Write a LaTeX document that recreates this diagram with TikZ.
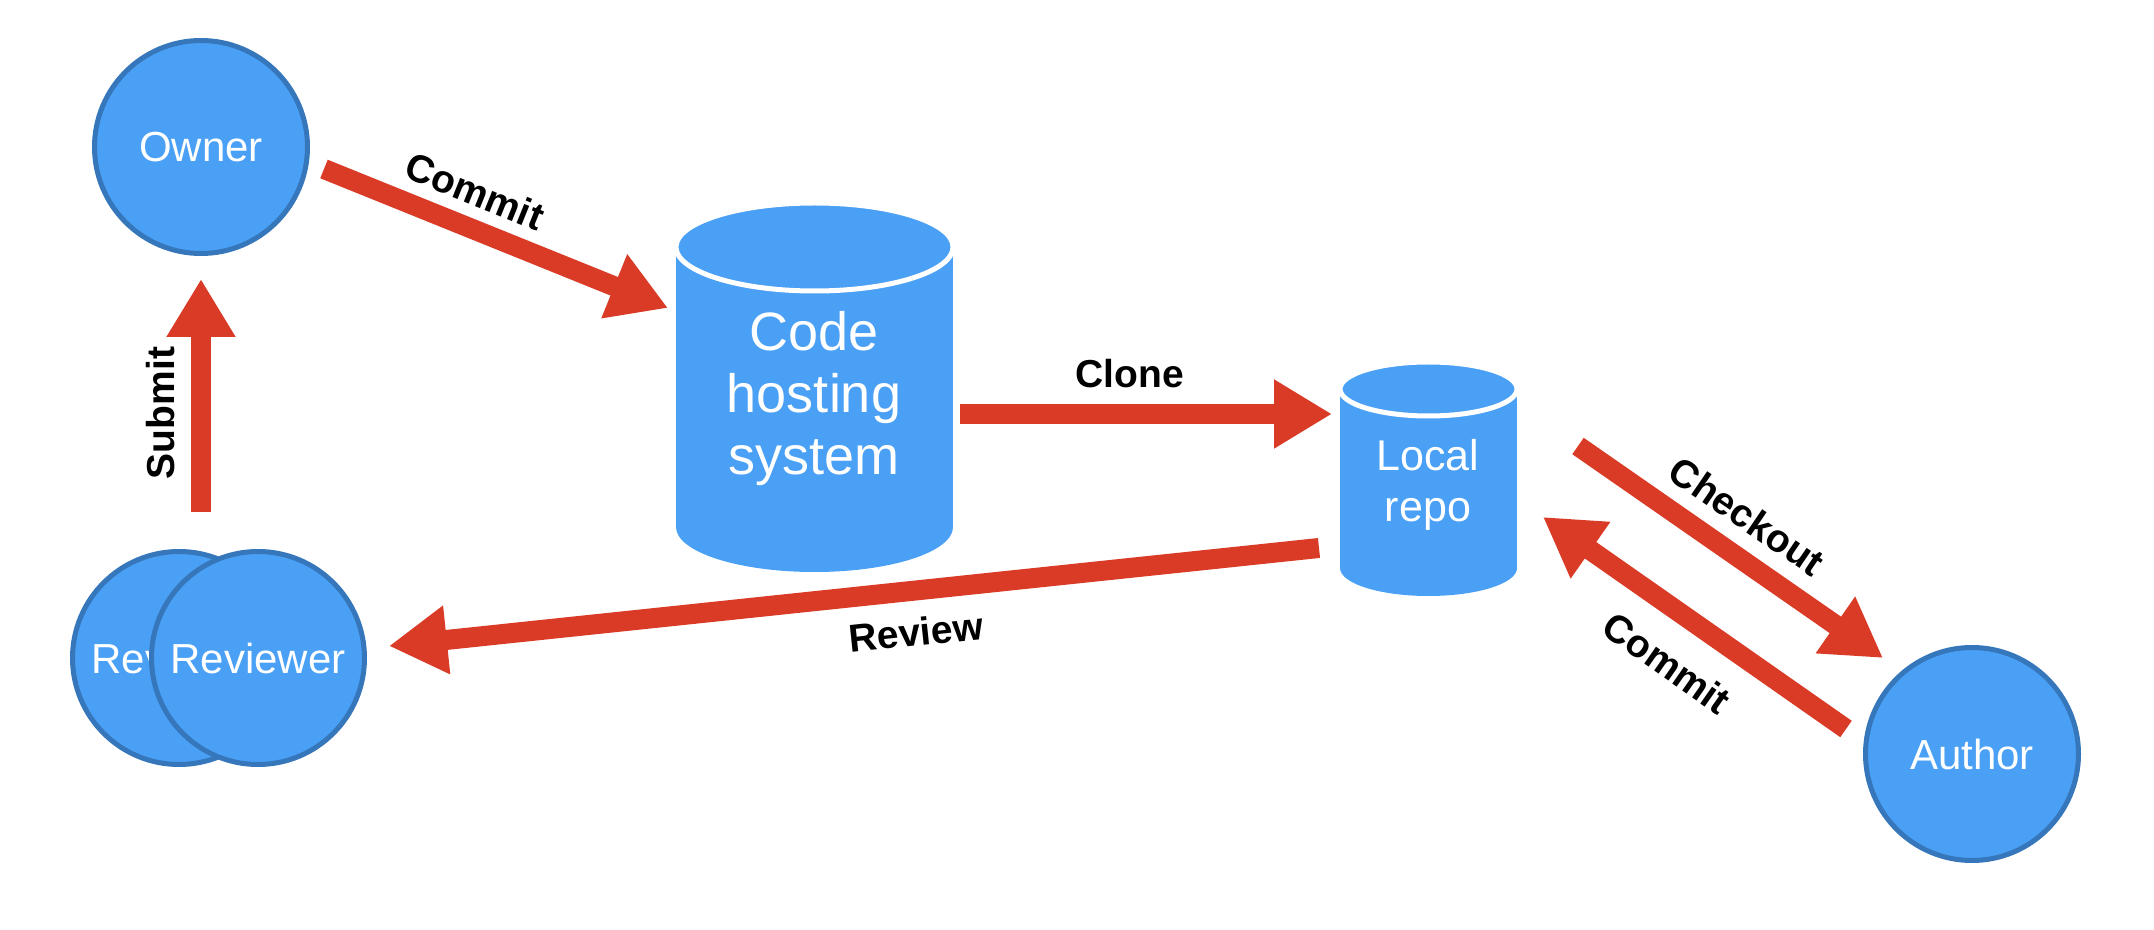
\documentclass[tikz,border=0pt]{standalone}
\usepackage{fontspec}
\setmainfont{Liberation Sans}
\usetikzlibrary{arrows.meta}
\definecolor{nodeblue}{RGB}{74,160,245}
\definecolor{edgeblue}{RGB}{54,118,186}
\definecolor{arrowred}{RGB}{218,59,39}
\begin{document}
\begin{tikzpicture}[x=0.5pt,y=-0.5pt,
  person/.style={circle, fill=nodeblue, draw=edgeblue, line width=2.5pt,
    minimum size=106.5pt, inner sep=0pt, text=white,
    font=\fontsize{21}{25}\selectfont},
  cyltext/.style={text=white, align=center, inner sep=0pt},
  flow/.style={draw=arrowred, line width=10pt, line cap=butt,
    -{Triangle[length=29pt,width=32.5pt]}},
  elabel/.style={font=\bfseries\fontsize{19.5}{23}\selectfont, text=black, inner sep=0pt},
  cylbody/.style={fill=nodeblue},
  cyltop/.style={fill=nodeblue, draw=white, line width=2.5pt},
]
\useasboundingbox (0,0) rectangle (2154,930);

% Code hosting cylinder
\fill[cylbody] (676,247) rectangle (953,527);
\fill[cylbody] (814.5,527) ellipse [x radius=138.5, y radius=45];
\draw[cyltop] (814.5,247) ellipse [x radius=138.5, y radius=44];
\node[cyltext, font=\fontsize{27}{31}\selectfont] (code) at (814,399) {Code\\hosting\\system};

% Local repo cylinder
\fill[cylbody] (1340,389) rectangle (1517,568);
\fill[cylbody] (1428.5,568) ellipse [x radius=88.5, y radius=28];
\draw[cyltop] (1428.5,389) ellipse [x radius=88.5, y radius=27];
\node[cyltext, font=\fontsize{21.5}{25.5}\selectfont] (local) at (1428,485) {Local\\repo};

% People
\node[person] (owner) at (201,147) {Owner};
\node[person] (revb) at (179,658) {Reviewer};
\node[person] (revf) at (258,658) {Reviewer};
\node[person] (author) at (1972,754) {Author};

% Arrow end points
\coordinate (c1s) at (324,169);  \coordinate (c1e) at (668,308);
\coordinate (cls) at (960,414);  \coordinate (cle) at (1332,414);
\coordinate (sus) at (201,512);  \coordinate (sue) at (201,279);
\coordinate (rvs) at (1319,548); \coordinate (rve) at (389,646);
\coordinate (cks) at (1578,446); \coordinate (cke) at (1883,658);
\coordinate (c2s) at (1846,729); \coordinate (c2e) at (1543,517);

\draw[flow] (c1s) -- (c1e);
\draw[flow] (cls) -- (cle);
\draw[flow] (sus) -- (sue);
\draw[flow] (rvs) -- (rve);
\draw[flow] (cks) -- (cke);
\draw[flow] (c2s) -- (c2e);

% Labels
\node[elabel, rotate=-22] (l1) at (475,191) {Commit};
\node[elabel] (l2) at (1130,374) {Clone};
\node[elabel, rotate=90] (l3) at (161,413) {Submit};
\node[elabel, rotate=6] (l4) at (916,632) {Review};
\node[elabel, rotate=-34.3] (l5) at (1747,516) {Checkout};
\node[elabel, rotate=-35] (l6) at (1667,663) {Commit};
\end{tikzpicture}
\end{document}
